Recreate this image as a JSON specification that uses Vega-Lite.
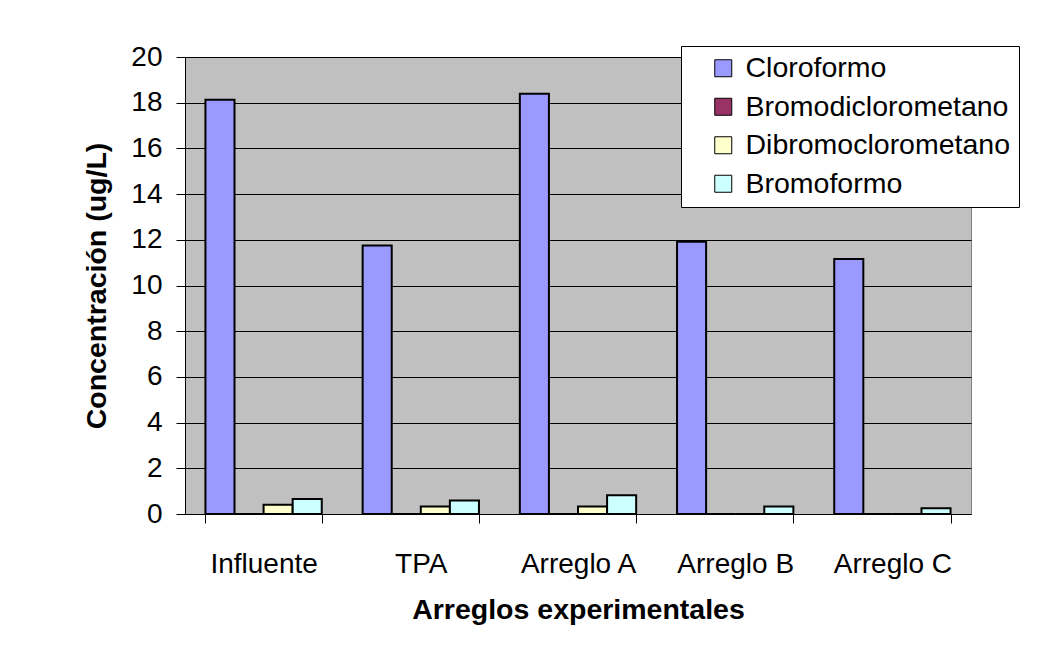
{
  "$schema": "https://vega.github.io/schema/vega-lite/v6.json",
  "width": 786,
  "height": 457,
  "autosize": {"type": "none"},
  "padding": {"left": 185, "top": 57, "right": 91, "bottom": 136},
  "background": "white",
  "config": {
    "font": "Liberation Sans",
    "view": {"fill": "#C0C0C0", "stroke": "#808080", "strokeWidth": 1}
  },
  "data": {
    "values": [
      {"arreglo": "Influente", "compuesto": "Cloroformo", "conc": 18.13},
      {"arreglo": "Influente", "compuesto": "Bromodiclorometano", "conc": 0},
      {"arreglo": "Influente", "compuesto": "Dibromoclorometano", "conc": 0.40},
      {"arreglo": "Influente", "compuesto": "Bromoformo", "conc": 0.66},
      {"arreglo": "TPA", "compuesto": "Cloroformo", "conc": 11.75},
      {"arreglo": "TPA", "compuesto": "Bromodiclorometano", "conc": 0},
      {"arreglo": "TPA", "compuesto": "Dibromoclorometano", "conc": 0.33},
      {"arreglo": "TPA", "compuesto": "Bromoformo", "conc": 0.59},
      {"arreglo": "Arreglo A", "compuesto": "Cloroformo", "conc": 18.39},
      {"arreglo": "Arreglo A", "compuesto": "Bromodiclorometano", "conc": 0},
      {"arreglo": "Arreglo A", "compuesto": "Dibromoclorometano", "conc": 0.33},
      {"arreglo": "Arreglo A", "compuesto": "Bromoformo", "conc": 0.82},
      {"arreglo": "Arreglo B", "compuesto": "Cloroformo", "conc": 11.91},
      {"arreglo": "Arreglo B", "compuesto": "Bromodiclorometano", "conc": 0},
      {"arreglo": "Arreglo B", "compuesto": "Dibromoclorometano", "conc": 0},
      {"arreglo": "Arreglo B", "compuesto": "Bromoformo", "conc": 0.33},
      {"arreglo": "Arreglo C", "compuesto": "Cloroformo", "conc": 11.16},
      {"arreglo": "Arreglo C", "compuesto": "Bromodiclorometano", "conc": 0},
      {"arreglo": "Arreglo C", "compuesto": "Dibromoclorometano", "conc": 0},
      {"arreglo": "Arreglo C", "compuesto": "Bromoformo", "conc": 0.25}
    ]
  },
  "mark": {"type": "bar", "stroke": "black", "strokeWidth": 2},
  "encoding": {
    "x": {
      "field": "arreglo",
      "type": "nominal",
      "sort": ["Influente", "TPA", "Arreglo A", "Arreglo B", "Arreglo C"],
      "scale": {"paddingInner": 0.26, "paddingOuter": 0.13},
      "axis": {
        "title": "Arreglos experimentales",
        "titleFontSize": 28.5,
        "titleFontWeight": "bold",
        "titleColor": "black",
        "titlePadding": 17,
        "labelAngle": 0,
        "labelFontSize": 28,
        "labelColor": "black",
        "labelPadding": 27,
        "domainColor": "black",
        "domainWidth": 1,
        "tickColor": "black",
        "tickSize": 9,
        "tickBand": "extent",
        "grid": false
      }
    },
    "xOffset": {
      "field": "compuesto",
      "type": "nominal",
      "sort": ["Cloroformo", "Bromodiclorometano", "Dibromoclorometano", "Bromoformo"],
      "scale": {"paddingInner": 0, "paddingOuter": 0}
    },
    "y": {
      "field": "conc",
      "type": "quantitative",
      "scale": {"domain": [0, 20], "nice": false},
      "axis": {
        "title": "Concentración (ug/L)",
        "titleFontSize": 28.5,
        "titleFontWeight": "bold",
        "titleColor": "black",
        "titlePadding": 19,
        "values": [0, 2, 4, 6, 8, 10, 12, 14, 16, 18, 20],
        "labelFontSize": 28,
        "labelColor": "black",
        "labelPadding": 14,
        "domainColor": "black",
        "domainWidth": 1,
        "tickColor": "black",
        "tickSize": 9,
        "gridColor": "black",
        "gridWidth": 1,
        "gridOpacity": 1
      }
    },
    "color": {
      "field": "compuesto",
      "type": "nominal",
      "scale": {
        "domain": ["Cloroformo", "Bromodiclorometano", "Dibromoclorometano", "Bromoformo"],
        "range": ["#9999FF", "#993366", "#FFFFCC", "#CCFFFF"]
      },
      "legend": {
        "title": null,
        "orient": "none",
        "legendX": 496,
        "legendY": -11,
        "padding": 8,
        "fillColor": "white",
        "strokeColor": "black",
        "symbolType": "square",
        "symbolSize": 289,
        "symbolStrokeColor": "black",
        "symbolStrokeWidth": 1,
        "symbolOffset": 20,
        "labelOffset": 8,
        "labelFontSize": 28.5,
        "labelColor": "black",
        "labelLimit": 400,
        "rowPadding": 9.5
      }
    }
  }
}
